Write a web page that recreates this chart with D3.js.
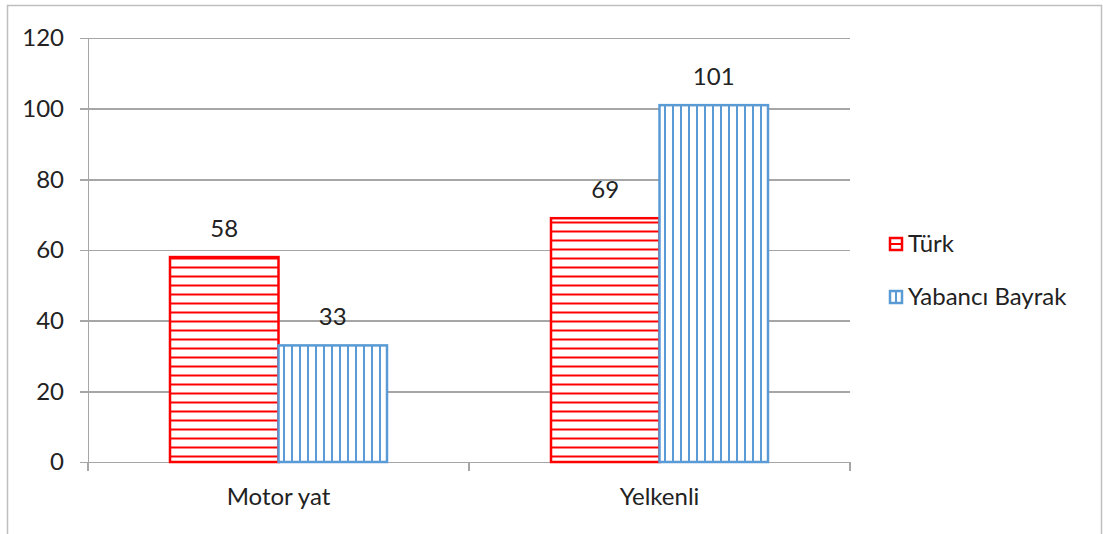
<!DOCTYPE html>
<html>
<head>
<meta charset="utf-8">
<style>
  body { margin: 0; background: #fff; }
  svg text { font-family: Lato, "Open Sans", sans-serif; fill: #222; }
  .grid line { stroke: #a6a6a6; stroke-width: 1.5; shape-rendering: crispEdges; }
  .grid path { stroke-width: 0; }
  .axis path, .axis line { stroke: #a6a6a6; stroke-width: 1.5; shape-rendering: crispEdges; }
</style>
</head>
<body>
<svg width="1103" height="534"></svg>
<script src="https://d3js.org/d3.v7.min.js"></script>
<script>
// data
var categories = ["Motor yat", "Yelkenli"];
var seriesNames = ["Türk", "Yabancı Bayrak"];
var turk = [58, 69];
var yabanci = [33, 101];
var yTicks = [0, 20, 40, 60, 80, 100, 120];

var colors = ["#ff0000", "#5b9bd5"];
var patterns = ["hatchH", "hatchV"];
var fs = "24px";

var margin = {top: 38, left: 88},
    width = 762, height = 424;

var svg = d3.select("svg");

// frame
svg.append("rect")
    .attr("x", 7.5).attr("y", 5.5)
    .attr("width", 1094).attr("height", 540)
    .attr("fill", "none").attr("stroke", "#bfbfbf").attr("stroke-width", 1.5);

// hatch patterns
var defs = svg.append("defs");
var ph = defs.append("pattern").attr("id", "hatchH")
    .attr("patternUnits", "userSpaceOnUse").attr("width", 9).attr("height", 9);
ph.append("rect").attr("width", 9).attr("height", 9).attr("fill", "#fff");
ph.append("line").attr("x1", 0).attr("x2", 9).attr("y1", 4.5).attr("y2", 4.5)
    .attr("stroke", colors[0]).attr("stroke-width", 2);
var pv = defs.append("pattern").attr("id", "hatchV")
    .attr("patternUnits", "userSpaceOnUse").attr("width", 8).attr("height", 8);
pv.append("rect").attr("width", 8).attr("height", 8).attr("fill", "#fff");
pv.append("line").attr("y1", 0).attr("y2", 8).attr("x1", 4).attr("x2", 4)
    .attr("stroke", colors[1]).attr("stroke-width", 2);

var g = svg.append("g")
    .attr("transform", "translate(" + margin.left + "," + margin.top + ")");

var x0 = d3.scaleBand().domain(categories).range([0, width]).paddingInner(0).paddingOuter(0);
var x1 = d3.scaleBand().domain(seriesNames).range([82, x0.bandwidth() - 82]);
var y = d3.scaleLinear().domain([0, 120]).range([height, 0]);

// gridlines
g.append("g").attr("class", "grid")
    .call(d3.axisLeft(y).tickValues(yTicks).tickSize(-width).tickFormat(""));

// y axis
var ya = g.append("g").attr("class", "axis")
    .call(d3.axisLeft(y).tickValues(yTicks).tickSize(8).tickPadding(16));
ya.selectAll("text").style("font-size", fs).attr("fill", "#222");

// x axis
var xa = g.append("g").attr("class", "axis")
    .attr("transform", "translate(0," + height + ")")
    .call(d3.axisBottom(x0).tickSize(0).tickPadding(26));
xa.selectAll("text").style("font-size", fs).attr("fill", "#222");
xa.selectAll(".tk").data([0, 1, 2]).enter().append("line")
    .attr("x1", function(d) { return d * x0.bandwidth(); })
    .attr("x2", function(d) { return d * x0.bandwidth(); })
    .attr("y1", 0).attr("y2", 9);

// bars
var rows = categories.map(function(c, i) {
  return [{cat: c, s: 0, v: turk[i]}, {cat: c, s: 1, v: yabanci[i]}];
});
var bars = g.selectAll(".cat").data(rows).enter().append("g")
    .attr("transform", function(d) { return "translate(" + x0(d[0].cat) + ",0)"; });
bars.selectAll("rect").data(function(d) { return d; }).enter().append("rect")
    .attr("x", function(d) { return x1(seriesNames[d.s]); })
    .attr("y", function(d) { return y(d.v); })
    .attr("width", x1.bandwidth())
    .attr("height", function(d) { return height - y(d.v); })
    .attr("fill", function(d) { return "url(#" + patterns[d.s] + ")"; })
    .attr("stroke", function(d) { return colors[d.s]; })
    .attr("stroke-width", 2.5);
bars.selectAll("text").data(function(d) { return d; }).enter().append("text")
    .attr("x", function(d) { return x1(seriesNames[d.s]) + x1.bandwidth() / 2; })
    .attr("y", function(d) { return y(d.v) - 20; })
    .attr("text-anchor", "middle")
    .style("font-size", fs)
    .text(function(d) { return d.v; });

// legend
var lg = svg.append("g").attr("transform", "translate(890,244)");
var li = lg.selectAll("g").data(seriesNames).enter().append("g")
    .attr("transform", function(d, i) { return "translate(0," + i * 53 + ")"; });
li.append("rect").attr("x", 0).attr("y", -6).attr("width", 12).attr("height", 12)
    .attr("fill", "#fff")
    .attr("stroke", function(d, i) { return colors[i]; }).attr("stroke-width", 2.5);
li.append("line")
    .attr("x1", function(d, i) { return i == 0 ? 0 : 6; })
    .attr("x2", function(d, i) { return i == 0 ? 12 : 6; })
    .attr("y1", function(d, i) { return i == 0 ? 0 : -6; })
    .attr("y2", function(d, i) { return i == 0 ? 0 : 6; })
    .attr("stroke", function(d, i) { return colors[i]; }).attr("stroke-width", 2);
li.append("text").attr("x", 18).attr("dy", "0.35em")
    .style("font-size", fs).text(function(d) { return d; });
</script>
</body>
</html>
